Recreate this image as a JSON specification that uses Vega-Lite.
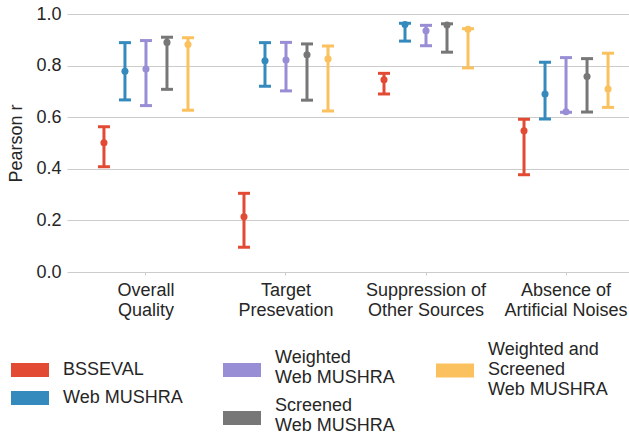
{
  "$schema": "https://vega.github.io/schema/vega-lite/v6.json",
  "autosize": {"type": "none"},
  "padding": {"left": 67, "top": 14, "right": 0, "bottom": 162},
  "width": 562,
  "height": 258,
  "background": "white",
  "data": {
    "values": [
      {"metric": "Overall Quality", "series": "BSSEVAL", "r": 0.501, "lo": 0.408, "hi": 0.563},
      {"metric": "Overall Quality", "series": "Web MUSHRA", "r": 0.778, "lo": 0.667, "hi": 0.889},
      {"metric": "Overall Quality", "series": "Weighted Web MUSHRA", "r": 0.787, "lo": 0.645, "hi": 0.897},
      {"metric": "Overall Quality", "series": "Screened Web MUSHRA", "r": 0.890, "lo": 0.708, "hi": 0.910},
      {"metric": "Overall Quality", "series": "Weighted and Screened Web MUSHRA", "r": 0.882, "lo": 0.627, "hi": 0.908},
      {"metric": "Target Presevation", "series": "BSSEVAL", "r": 0.214, "lo": 0.096, "hi": 0.305},
      {"metric": "Target Presevation", "series": "Web MUSHRA", "r": 0.819, "lo": 0.720, "hi": 0.889},
      {"metric": "Target Presevation", "series": "Weighted Web MUSHRA", "r": 0.822, "lo": 0.702, "hi": 0.890},
      {"metric": "Target Presevation", "series": "Screened Web MUSHRA", "r": 0.842, "lo": 0.666, "hi": 0.884},
      {"metric": "Target Presevation", "series": "Weighted and Screened Web MUSHRA", "r": 0.826, "lo": 0.624, "hi": 0.876},
      {"metric": "Suppression of Other Sources", "series": "BSSEVAL", "r": 0.745, "lo": 0.690, "hi": 0.770},
      {"metric": "Suppression of Other Sources", "series": "Web MUSHRA", "r": 0.959, "lo": 0.895, "hi": 0.964},
      {"metric": "Suppression of Other Sources", "series": "Weighted Web MUSHRA", "r": 0.935, "lo": 0.877, "hi": 0.956},
      {"metric": "Suppression of Other Sources", "series": "Screened Web MUSHRA", "r": 0.957, "lo": 0.852, "hi": 0.962},
      {"metric": "Suppression of Other Sources", "series": "Weighted and Screened Web MUSHRA", "r": 0.941, "lo": 0.791, "hi": 0.943},
      {"metric": "Absence of Artificial Noises", "series": "BSSEVAL", "r": 0.547, "lo": 0.377, "hi": 0.592},
      {"metric": "Absence of Artificial Noises", "series": "Web MUSHRA", "r": 0.690, "lo": 0.593, "hi": 0.813},
      {"metric": "Absence of Artificial Noises", "series": "Weighted Web MUSHRA", "r": 0.621, "lo": 0.619, "hi": 0.831},
      {"metric": "Absence of Artificial Noises", "series": "Screened Web MUSHRA", "r": 0.758, "lo": 0.620, "hi": 0.827},
      {"metric": "Absence of Artificial Noises", "series": "Weighted and Screened Web MUSHRA", "r": 0.709, "lo": 0.638, "hi": 0.848}
    ]
  },
  "encoding": {
    "x": {
      "field": "metric", "type": "nominal",
      "sort": ["Overall Quality", "Target Presevation", "Suppression of Other Sources", "Absence of Artificial Noises"],
      "scale": {"range": [0, 578], "paddingInner": 0, "paddingOuter": 0.064},
      "axis": {
        "title": null,
        "labelExpr": "datum.label == 'Overall Quality' ? ['Overall', 'Quality'] : datum.label == 'Target Presevation' ? ['Target', 'Presevation'] : datum.label == 'Suppression of Other Sources' ? ['Suppression of', 'Other Sources'] : ['Absence of', 'Artificial Noises']"
      }
    },
    "xOffset": {
      "field": "series", "type": "nominal",
      "scale": {"domain": ["BSSEVAL", "Web MUSHRA", "Weighted Web MUSHRA", "Screened Web MUSHRA", "Weighted and Screened Web MUSHRA"], "paddingInner": 0, "paddingOuter": 0.833}
    }
  },
  "layer": [
    {
      "mark": {"type": "rule", "strokeWidth": 3},
      "encoding": {
        "y": {"field": "lo", "type": "quantitative", "title": "Pearson r", "scale": {"domain": [0, 1], "nice": false, "zero": false}, "axis": {"values": [0, 0.2, 0.4, 0.6, 0.8, 1.0], "format": ".1f"}},
        "y2": {"field": "hi"},
        "stroke": {
          "field": "series", "type": "nominal",
          "scale": {"domain": ["BSSEVAL", "Web MUSHRA", "Weighted Web MUSHRA", "Screened Web MUSHRA", "Weighted and Screened Web MUSHRA"], "range": ["#E24A33", "#348ABD", "#988ED5", "#777777", "#FBC15E"]},
          "legend": {
            "title": null, "values": ["BSSEVAL", "Web MUSHRA"],
            "symbolType": "M-1,-0.368L1,-0.368L1,0.368L-1,0.368Z", "symbolSize": 1444, "symbolStrokeWidth": 0,
            "legendX": -56, "legendY": 337, "rowPadding": -2,
            "encode": {"symbols": {"update": {"fill": {"signal": "scale('stroke', datum.value)"}, "strokeWidth": {"value": 0}}}, "labels": {"update": {"lineHeight": {"value": 20}}}}
          }
        }
      }
    },
    {
      "mark": {"type": "tick", "size": 12, "thickness": 3, "opacity": 1},
      "encoding": {
        "y": {"field": "lo", "type": "quantitative", "title": "Pearson r"},
        "color": {
          "field": "series", "type": "nominal",
          "scale": {"domain": ["Weighted and Screened Web MUSHRA", "BSSEVAL", "Web MUSHRA", "Weighted Web MUSHRA", "Screened Web MUSHRA"], "range": ["#FBC15E", "#E24A33", "#348ABD", "#988ED5", "#777777"]},
          "legend": {"title": null, "values": ["Weighted and Screened Web MUSHRA"], "labelExpr": "['Weighted and', 'Screened', 'Web MUSHRA']", "symbolType": "M-1,0.711L1,0.711L1,1.447L-1,1.447Z", "symbolSize": 1444, "symbolStrokeWidth": 0, "legendX": 369, "legendY": 317,
            "encode": {"labels": {"update": {"lineHeight": {"value": 20}}}}}
        }
      }
    },
    {
      "mark": {"type": "tick", "size": 12, "thickness": 3, "opacity": 1},
      "encoding": {
        "y": {"field": "hi", "type": "quantitative", "title": "Pearson r"},
        "color": {"field": "series", "type": "nominal"}
      }
    },
    {
      "mark": {"type": "point", "filled": true, "opacity": 1, "size": 50},
      "encoding": {
        "y": {"field": "r", "type": "quantitative", "title": "Pearson r"},
        "fill": {
          "field": "series", "type": "nominal",
          "scale": {"domain": ["Weighted Web MUSHRA", "Screened Web MUSHRA", "BSSEVAL", "Web MUSHRA", "Weighted and Screened Web MUSHRA"], "range": ["#988ED5", "#777777", "#E24A33", "#348ABD", "#FBC15E"]},
          "legend": {"title": null, "values": ["Weighted Web MUSHRA", "Screened Web MUSHRA"], "labelExpr": "datum.label == 'Weighted Web MUSHRA' ? ['Weighted', 'Web MUSHRA'] : ['Screened', 'Web MUSHRA']", "symbolType": "M-1,0.263L1,0.263L1,1L-1,1Z", "symbolSize": 1444, "symbolStrokeWidth": 0, "legendX": 156, "legendY": 325, "rowPadding": -1,
            "encode": {"labels": {"update": {"lineHeight": {"value": 20}}}}}
        }
      }
    }
  ],
  "config": {
    "view": {"stroke": null},
    "font": "Liberation Sans",
    "axis": {
      "labelFont": "Liberation Sans", "titleFont": "Liberation Sans",
      "labelColor": "#262626", "titleColor": "#262626",
      "labelFontSize": 18, "titleFontSize": 18, "titleFontWeight": "normal",
      "domain": false, "gridColor": "#cccccc", "gridWidth": 1.2
    },
    "axisY": {"ticks": false, "labelPadding": 6, "titlePadding": 10},
    "axisX": {"grid": false, "ticks": true, "tickSize": 3, "tickColor": "#cccccc", "labelPadding": 6, "labelAngle": 0, "labelLineHeight": 20, "labelBaseline": "top"},
    "legend": {
      "orient": "none", "direction": "vertical", "padding": 0,
      "labelFont": "Liberation Sans", "labelFontSize": 18, "labelColor": "#262626",
      "labelOffset": 14, "symbolOpacity": 1, "labelLimit": 300
    }
  }
}
